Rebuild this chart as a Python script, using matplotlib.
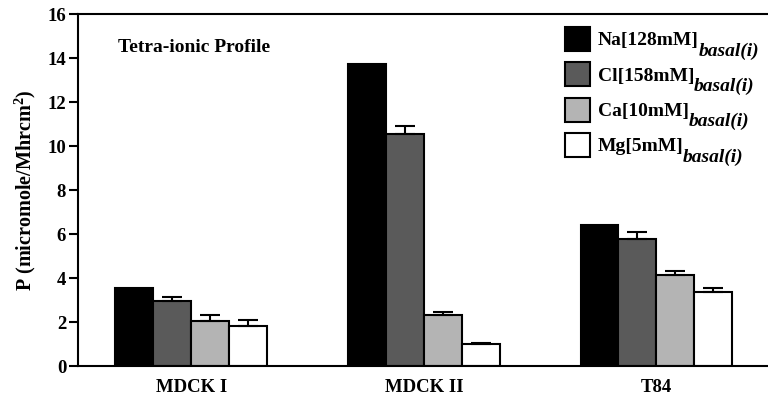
import matplotlib
matplotlib.use("Agg")
import matplotlib.pyplot as plt
import numpy as np
from matplotlib.patches import Patch

categories = ["MDCK I", "MDCK II", "T84"]
series = ["Na[128mM]", "Cl[158mM]", "Ca[10mM]", "Mg[5mM]"]
subscript = "basal(i)"
na = [3.55, 13.73, 6.41]
cl = [2.95, 10.55, 5.77]
ca = [2.05, 2.30, 4.14]
mg = [1.82, 1.00, 3.36]
cl_err = [0.18, 0.35, 0.30]
ca_err = [0.27, 0.14, 0.16]
mg_err = [0.27, 0.04, 0.18]
yticks = [0, 2, 4, 6, 8, 10, 12, 14, 16]

values = [na, cl, ca, mg]
errors = [None, cl_err, ca_err, mg_err]
colors = ["#000000", "#5a5a5a", "#b4b4b4", "#ffffff"]

plt.rcParams['font.family'] = ['Liberation Serif', 'DejaVu Serif']
plt.rcParams['font.weight'] = 'bold'
plt.rcParams['mathtext.fontset'] = 'custom'
plt.rcParams['mathtext.it'] = 'Liberation Serif:italic:bold'
plt.rcParams['mathtext.rm'] = 'Liberation Serif:bold'
plt.rcParams['mathtext.bf'] = 'Liberation Serif:bold'

fig = plt.figure(figsize=(7.68, 3.98), dpi=100)
ax = fig.add_axes([0.1016, 0.0804, 0.8984, 0.8844])

x = np.arange(len(categories))
w = 0.163
for i, (vals, err, c) in enumerate(zip(values, errors, colors)):
    pos = x + (i - 1.5) * w
    ax.bar(pos, vals, width=w, color=c, edgecolor='black', linewidth=1.5, zorder=2)
    if err is not None:
        ax.errorbar(pos, vals, yerr=[np.zeros(len(err)), err], fmt='none',
                    ecolor='black', elinewidth=1.5, capsize=7.5, capthick=1.5, zorder=3)

ax.set_xlim(-0.487, 2.48)
ax.set_ylim(0, 16)
ax.set_yticks(yticks)
ax.set_xticks(x)
ax.set_xticklabels(categories, fontsize=13.5, fontweight='bold')
ax.tick_params(axis='x', length=0, pad=9)
ax.tick_params(axis='y', direction='out', length=6.5, width=1.5, labelsize=13.5, pad=2)
for lab in ax.get_yticklabels():
    lab.set_fontweight('bold')
for s in ['left', 'top', 'bottom']:
    ax.spines[s].set_linewidth(1.5)
ax.spines['right'].set_visible(False)

ax.set_ylabel("P (micromole/Mhrcm$^2$)", fontsize=14.5, fontweight='bold', labelpad=7)

ax.text(0.058, 0.905, "Tetra-ionic Profile", transform=ax.transAxes, fontsize=14,
        fontweight='bold', ha='left', va='center')

handles = [Patch(facecolor=c, edgecolor='black', linewidth=1.5) for c in colors]
leg = ax.legend(handles, series, loc='upper left',
                bbox_to_anchor=(565 / 768, 1 - 27 / 398), bbox_transform=fig.transFigure,
                frameon=False, prop={'size': 14, 'weight': 'bold'},
                handlelength=1.28, handleheight=1.5,
                labelspacing=0.6, handletextpad=0.42, borderaxespad=0, borderpad=0)

fig.canvas.draw()
for t in leg.get_texts():
    ax.annotate(subscript, xy=(1, 0), xycoords=t, xytext=(-0.5, -4.5),
                textcoords='offset points', fontsize=14, fontstyle='italic',
                fontweight='bold', ha='left', va='baseline', zorder=10)

fig.savefig("out.png", dpi=100)
